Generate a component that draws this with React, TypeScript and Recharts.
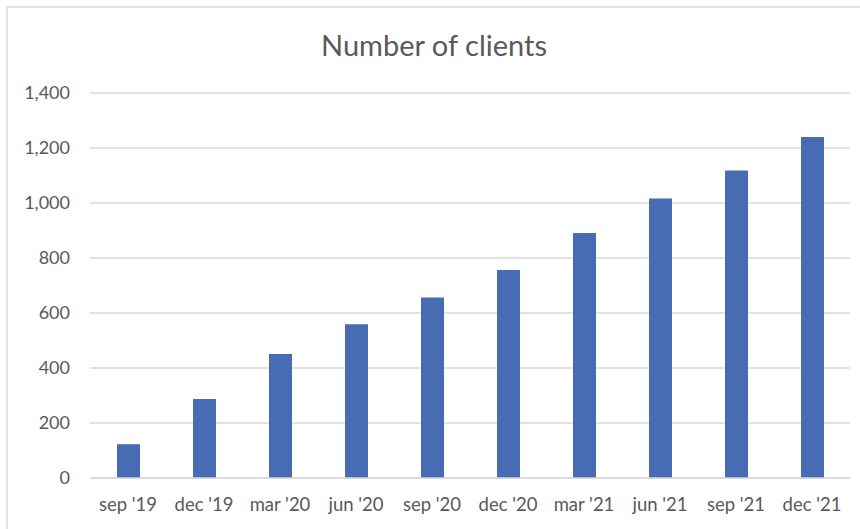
import React from 'react';
import { BarChart, Bar, XAxis, YAxis, CartesianGrid } from 'recharts';

const quarters = ["sep '19", "dec '19", "mar '20", "jun '20", "sep '20", "dec '20", "mar '21", "jun '21", "sep '21", "dec '21"];
const clients = [123, 287, 451, 559, 656, 756, 891, 1016, 1118, 1240];
const yTicks = [0, 200, 400, 600, 800, 1000, 1200, 1400];

const data = quarters.map((q, i) => ({ name: q, clients: clients[i] }));

const textColor = '#595959';
const gridColor = '#d9d9d9';
const font = 'Lato, "Open Sans", sans-serif';

const App: React.FC = () => {
  return (
    <div style={{ position: 'absolute', left: 0, top: 0, width: 860, height: 529, overflow: 'hidden', background: '#fff', fontFamily: font }}>
      {/* chart frame, runs off the right and bottom edges like the screenshot */}
      <div style={{ position: 'absolute', left: 6, top: 6, width: 900, height: 560, border: '2px solid #e2e2e2' }} />
      <div
        style={{
          position: 'absolute',
          left: 0,
          top: 25,
          width: 868,
          textAlign: 'center',
          fontSize: 29,
          color: textColor,
          lineHeight: '40px',
        }}
      >
        Number of clients
      </div>
      <div style={{ position: 'absolute', left: 0, top: 0 }}>
        <BarChart width={860} height={529} data={data} margin={{ top: 93, right: 10, bottom: 0, left: 0 }}>
          <CartesianGrid vertical={false} stroke={gridColor} strokeWidth={1.5} />
          <XAxis
            dataKey="name"
            height={51}
            axisLine={{ stroke: gridColor, strokeWidth: 1.5 }}
            tickLine={false}
            tickSize={0}
            tickMargin={20}
            interval={0}
            tick={{ fill: textColor, fontSize: 18.5, fontFamily: font }}
          />
          <YAxis
            width={90}
            domain={[0, 1400]}
            ticks={yTicks}
            axisLine={false}
            tickLine={false}
            tickSize={0}
            tickMargin={20}
            tick={{ fill: textColor, fontSize: 18, fontFamily: font }}
            tickFormatter={(v: number) => v.toLocaleString('en-US')}
          />
          <Bar dataKey="clients" fill="#476cb3" barSize={23} isAnimationActive={false} />
        </BarChart>
      </div>
    </div>
  );
};

export default App;
